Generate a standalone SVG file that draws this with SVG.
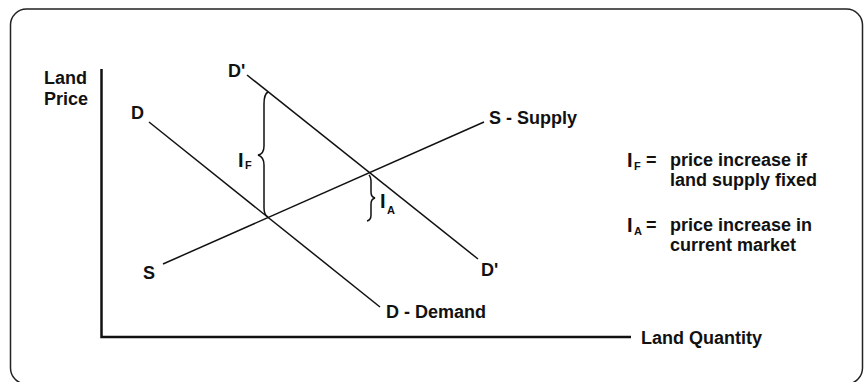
<svg xmlns="http://www.w3.org/2000/svg" width="867" height="382" viewBox="0 0 867 382">
<style>
.t{font-family:"Liberation Sans",Arial,sans-serif;font-weight:bold;font-size:18px;fill:#111}
.i{font-family:"Liberation Sans",Arial,sans-serif;font-weight:bold;font-size:20px;fill:#111}
.s{font-family:"Liberation Sans",Arial,sans-serif;font-weight:bold;font-size:11px;fill:#111}
.ln{stroke:#111;stroke-width:1.5;fill:none}
.ax{stroke:#111;stroke-width:2.5;fill:none}
</style>
<rect x="10.5" y="9" width="852" height="375" rx="16" fill="#fff" stroke="#222" stroke-width="1.5"/>
<g id="axes">
<path class="ax" d="M101.5,69 V337 H631"/>
<text class="t" x="44" y="84">Land</text>
<text class="t" x="44" y="105">Price</text>
<text class="t" x="641" y="344">Land Quantity</text>
</g>
<g id="connectors">
<path class="ln" d="M149,122 L380,307"/>
<path class="ln" d="M247,75 L478,259"/>
<path class="ln" d="M163,264 L484,122"/>
</g>
<g id="demand">
<text class="t" x="131" y="119">D</text>
<text class="t" x="386" y="318">D - Demand</text>
</g>
<g id="demand-shifted">
<text class="t" x="228" y="77">D'</text>
<text class="t" x="481" y="276">D'</text>
</g>
<g id="supply">
<text class="t" x="143" y="279">S</text>
<text class="t" x="489" y="124">S - Supply</text>
</g>
<g id="brace-IF">
<path class="ln" d="M268,92 Q264,94 264,104 V146 Q264,154 258,155 Q264,157 264,165 V208 Q264,215 268,217"/>
<text class="i" x="238" y="167">I</text>
<text class="s" x="245" y="169">F</text>
</g>
<g id="brace-IA">
<path class="ln" d="M369,175 Q371,177 371,182 V192 Q371,197 375,198 Q371,199 371,204 V215 Q371,220 367,221"/>
<text class="i" x="380" y="208">I</text>
<text class="s" x="387" y="214">A</text>
</g>
<g id="legend">
<text class="i" x="627" y="167">I</text>
<text class="s" x="634" y="170">F</text>
<text class="t" x="646" y="166">=</text>
<text class="t" x="670" y="166">price increase if</text>
<text class="t" x="670" y="186">land supply fixed</text>
<text class="i" x="627" y="232">I</text>
<text class="s" x="634" y="235">A</text>
<text class="t" x="646" y="231">=</text>
<text class="t" x="670" y="231">price increase in</text>
<text class="t" x="670" y="251">current market</text>
</g>
</svg>
